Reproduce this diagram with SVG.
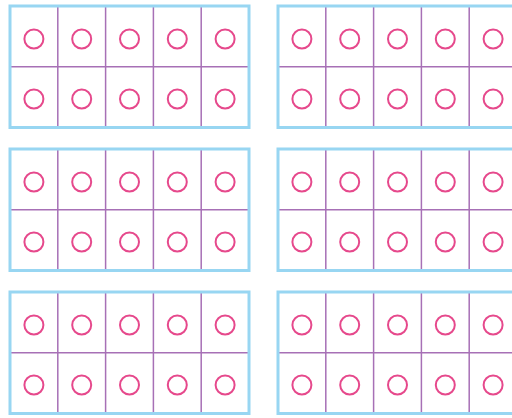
<svg xmlns="http://www.w3.org/2000/svg" xmlns:xlink="http://www.w3.org/1999/xlink" width="512" height="418" viewBox="0 0 512 418">
  <style>
    .grid { stroke: #a770b6; stroke-width: 1.5; fill: none; }
    .border { stroke: #98d6f2; stroke-width: 3; fill: none; }
    .dot { stroke: #e6498c; stroke-width: 2; fill: none; }
  </style>
  <defs>
    <g id="frame">
      <rect x="0" y="0" width="239" height="121.5" fill="#ffffff"/>
      <path class="grid" d="M47.8 0V121.5M95.6 0V121.5M143.4 0V121.5M191.2 0V121.5M0 60.75H239"/>
      <g class="dot">
        <circle cx="23.9" cy="33" r="9.5"/>
        <circle cx="71.7" cy="33" r="9.5"/>
        <circle cx="119.5" cy="33" r="9.5"/>
        <circle cx="167.3" cy="33" r="9.5"/>
        <circle cx="215.1" cy="33" r="9.5"/>
        <circle cx="23.9" cy="93" r="9.5"/>
        <circle cx="71.7" cy="93" r="9.5"/>
        <circle cx="119.5" cy="93" r="9.5"/>
        <circle cx="167.3" cy="93" r="9.5"/>
        <circle cx="215.1" cy="93" r="9.5"/>
      </g>
      <rect class="border" x="0" y="0" width="239" height="121.5"/>
    </g>
  </defs>
  <rect width="512" height="418" fill="#ffffff"/>
  <g id="frame-1-1"><use xlink:href="#frame" href="#frame" x="10" y="6"/></g>
  <g id="frame-1-2"><use xlink:href="#frame" href="#frame" x="278" y="6"/></g>
  <g id="frame-2-1"><use xlink:href="#frame" href="#frame" x="10" y="149"/></g>
  <g id="frame-2-2"><use xlink:href="#frame" href="#frame" x="278" y="149"/></g>
  <g id="frame-3-1"><use xlink:href="#frame" href="#frame" x="10" y="292"/></g>
  <g id="frame-3-2"><use xlink:href="#frame" href="#frame" x="278" y="292"/></g>
  <g id="connectors"/>
</svg>
